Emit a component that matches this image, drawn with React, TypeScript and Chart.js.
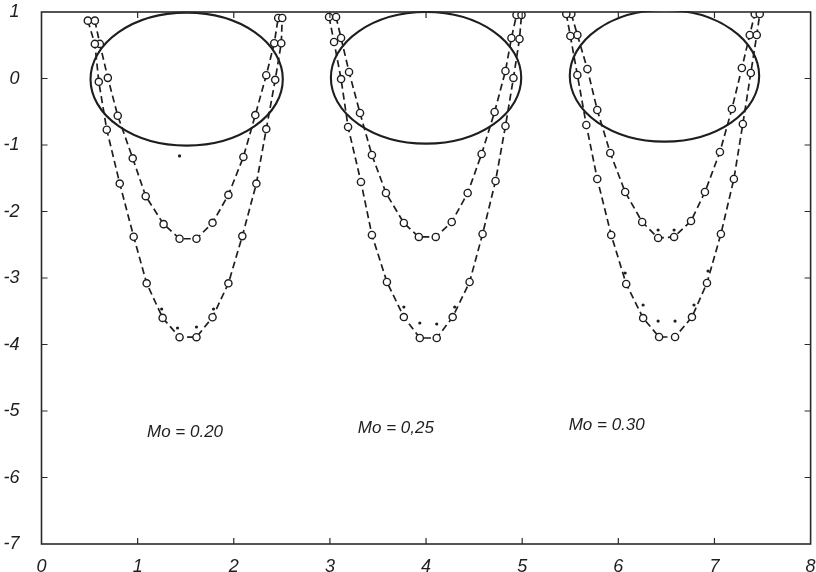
import React, { useEffect, useRef } from "react";
import { Chart, registerables } from "chart.js";

Chart.register(...registerables);

const INK = "#1e1e1e";

const X_TICKS = [0, 1, 2, 3, 4, 5, 6, 7, 8];
const X_TICK_LABELS = ["0", "1", "2", "3", "4", "5", "6", "7", "8"];
const Y_TICKS = [1, 0, -1, -2, -3, -4, -5, -6, -7];
const Y_TICK_LABELS = ["1", "0", "-1", "-2", "-3", "-4", "-5", "-6", "-7"];

// Mo = 0.20
const g1OuterX = [0.482, 0.555, 0.596, 0.679, 0.814, 0.959, 1.094, 1.26, 1.436, 1.612, 1.779, 1.944, 2.089, 2.235, 2.338, 2.431, 2.494, 2.504];
const g1OuterY = [0.87, 0.52, -0.05, -0.77, -1.58, -2.38, -3.08, -3.6, -3.89, -3.89, -3.59, -3.08, -2.37, -1.58, -0.76, -0.02, 0.53, 0.91];
const g1InnerX = [0.555, 0.607, 0.69, 0.793, 0.949, 1.084, 1.27, 1.436, 1.612, 1.779, 1.944, 2.1, 2.224, 2.338, 2.421, 2.462];
const g1InnerY = [0.87, 0.52, 0.01, -0.56, -1.2, -1.77, -2.19, -2.41, -2.41, -2.17, -1.75, -1.18, -0.55, 0.05, 0.53, 0.91];

// Mo = 0.25
const g2OuterX = [2.991, 3.043, 3.116, 3.189, 3.323, 3.437, 3.593, 3.769, 3.935, 4.111, 4.277, 4.453, 4.588, 4.723, 4.826, 4.909, 4.972, 4.993];
const g2OuterY = [0.925, 0.549, -0.008, -0.729, -1.556, -2.353, -3.06, -3.587, -3.902, -3.902, -3.587, -3.06, -2.338, -1.541, -0.714, 0.008, 0.594, 0.955];
const g2InnerX = [3.064, 3.116, 3.199, 3.313, 3.437, 3.583, 3.769, 3.925, 4.101, 4.267, 4.433, 4.578, 4.713, 4.826, 4.888, 4.941];
const g2InnerY = [0.925, 0.609, 0.098, -0.519, -1.15, -1.722, -2.173, -2.383, -2.383, -2.158, -1.722, -1.135, -0.504, 0.113, 0.609, 0.955];

// Mo = 0.30
const g3OuterX = [5.459, 5.501, 5.574, 5.667, 5.781, 5.926, 6.082, 6.258, 6.424, 6.59, 6.766, 6.922, 7.067, 7.202, 7.295, 7.378, 7.44, 7.471];
const g3OuterY = [0.97, 0.639, 0.053, -0.699, -1.511, -2.353, -3.09, -3.602, -3.887, -3.887, -3.587, -3.075, -2.338, -1.511, -0.684, 0.083, 0.654, 0.97];
const g3InnerX = [5.511, 5.574, 5.678, 5.781, 5.916, 6.071, 6.248, 6.414, 6.58, 6.756, 6.901, 7.057, 7.181, 7.285, 7.367, 7.419];
const g3InnerY = [0.97, 0.654, 0.143, -0.474, -1.12, -1.707, -2.158, -2.398, -2.383, -2.143, -1.707, -1.105, -0.459, 0.158, 0.654, 0.97];

// small filled dots
const dotsX = [1.436, 1.25, 1.415, 1.612, 1.789, 3.769, 3.935, 4.111, 4.298, 6.414, 6.58, 6.258, 6.414, 6.59, 6.787, 6.071, 6.933];
const dotsY = [-1.165, -3.466, -3.752, -3.737, -3.466, -3.436, -3.677, -3.692, -3.436, -2.278, -2.278, -3.406, -3.647, -3.647, -3.406, -2.925, -2.895];

// ellipses
const ellipseCX = [1.51, 4.0, 6.48];
const ellipseCY = [-0.01, 0.01, 0.04];
const ellipseRX = [1.0, 0.99, 0.985];
const ellipseRY = [1.0, 0.99, 0.99];

// annotations
const noteTexts = ["Mo = 0.20", "Mo = 0,25", "Mo = 0.30"];
const noteX = [1.493, 3.686, 5.879];
const noteY = [-5.316, -5.256, -5.211];

const FONT_FAMILY = "'Liberation Sans', 'DejaVu Sans', sans-serif";

const pts = (xs: number[], ys: number[]) => xs.map((x, i) => ({ x, y: ys[i] }));

const curve = (xs: number[], ys: number[]) => ({
  data: pts(xs, ys),
  showLine: true,
  borderColor: INK,
  borderWidth: 1.7,
  borderDash: [7, 4],
  pointRadius: 3.6,
  pointBorderWidth: 1.4,
  pointBorderColor: INK,
  pointBackgroundColor: "#ffffff",
  tension: 0,
  fill: false,
});

const decorPlugin = {
  id: "decor",
  beforeDatasetsDraw(chart: any) {
    const { ctx, chartArea: a, scales } = chart;
    const x = scales.x;
    const y = scales.y;
    ctx.save();
    ctx.beginPath();
    ctx.rect(a.left, a.top - 1, a.right - a.left, a.bottom - a.top + 1);
    ctx.clip();
    ctx.strokeStyle = INK;
    ctx.lineWidth = 2.1;
    for (let i = 0; i < ellipseCX.length; i++) {
      const cx = x.getPixelForValue(ellipseCX[i]);
      const cy = y.getPixelForValue(ellipseCY[i]);
      const rx = Math.abs(x.getPixelForValue(ellipseCX[i] + ellipseRX[i]) - cx);
      const ry = Math.abs(y.getPixelForValue(ellipseCY[i] + ellipseRY[i]) - cy);
      ctx.beginPath();
      ctx.ellipse(cx, cy, rx, ry, 0, 0, Math.PI * 2);
      ctx.stroke();
    }
    ctx.restore();
  },
  afterDraw(chart: any) {
    const { ctx, chartArea: a, scales } = chart;
    const x = scales.x;
    const y = scales.y;
    ctx.save();
    ctx.strokeStyle = "#2a2a2a";
    ctx.lineWidth = 1.6;
    ctx.strokeRect(a.left, a.top, a.right - a.left, a.bottom - a.top);
    const L = 6;
    ctx.lineWidth = 1.2;
    ctx.beginPath();
    for (const v of X_TICKS) {
      if (v === X_TICKS[0] || v === X_TICKS[X_TICKS.length - 1]) continue;
      const px = x.getPixelForValue(v);
      ctx.moveTo(px, a.bottom);
      ctx.lineTo(px, a.bottom - L);
      ctx.moveTo(px, a.top);
      ctx.lineTo(px, a.top + L);
    }
    for (const v of Y_TICKS) {
      if (v === Y_TICKS[0] || v === Y_TICKS[Y_TICKS.length - 1]) continue;
      const py = y.getPixelForValue(v);
      ctx.moveTo(a.left, py);
      ctx.lineTo(a.left + L, py);
      ctx.moveTo(a.right, py);
      ctx.lineTo(a.right - L, py);
    }
    ctx.stroke();

    ctx.fillStyle = INK;
    ctx.font = `italic 17px ${FONT_FAMILY}`;
    ctx.textAlign = "center";
    ctx.textBaseline = "middle";
    for (let i = 0; i < noteTexts.length; i++) {
      ctx.fillText(noteTexts[i], x.getPixelForValue(noteX[i]), y.getPixelForValue(noteY[i]));
    }
    ctx.restore();
  },
};

export default function App() {
  const canvasRef = useRef<HTMLCanvasElement | null>(null);

  useEffect(() => {
    const canvas = canvasRef.current;
    if (!canvas) return;
    const tickFont = { family: FONT_FAMILY, size: 18, style: "italic" as const, lineHeight: 1.0 };
    const chart = new Chart(canvas, {
      type: "scatter",
      data: {
        datasets: [
          curve(g1OuterX, g1OuterY),
          curve(g1InnerX, g1InnerY),
          curve(g2OuterX, g2OuterY),
          curve(g2InnerX, g2InnerY),
          curve(g3OuterX, g3OuterY),
          curve(g3InnerX, g3InnerY),
          {
            data: pts(dotsX, dotsY),
            showLine: false,
            pointRadius: 1.6,
            pointBorderWidth: 0,
            pointBackgroundColor: INK,
            pointBorderColor: INK,
          },
        ],
      },
      options: {
        animation: false,
        responsive: false,
        devicePixelRatio: 1,
        layout: { padding: { top: 12, right: 3, bottom: 0, left: 0 } },
        plugins: {
          legend: { display: false },
          tooltip: { enabled: false },
        },
        scales: {
          x: {
            type: "linear",
            min: 0,
            max: 8,
            grid: { display: false },
            border: { display: false },
            afterBuildTicks: (s: any) => {
              s.ticks = X_TICKS.map((v) => ({ value: v }));
            },
            ticks: {
              color: INK,
              font: tickFont,
              padding: 6,
              maxRotation: 0,
              autoSkip: false,
              callback: (v: any) => {
                const i = X_TICKS.indexOf(Number(v));
                return i >= 0 ? X_TICK_LABELS[i] : "";
              },
            },
            afterFit: (s: any) => {
              s.height = 28;
              s.paddingLeft = 0;
              s.paddingRight = 0;
            },
          },
          y: {
            type: "linear",
            min: -7,
            max: 1,
            grid: { display: false },
            border: { display: false },
            afterBuildTicks: (s: any) => {
              s.ticks = Y_TICKS.map((v) => ({ value: v }));
            },
            ticks: {
              color: INK,
              font: tickFont,
              padding: 14,
              autoSkip: false,
              callback: (v: any) => {
                const i = Y_TICKS.indexOf(Number(v));
                return i >= 0 ? Y_TICK_LABELS[i] : "";
              },
            },
            afterFit: (s: any) => {
              s.width = 41.5;
              s.paddingTop = 0;
              s.paddingBottom = 0;
            },
          },
        },
      },
      plugins: [decorPlugin],
    } as any);
    return () => chart.destroy();
  }, []);

  return (
    <div style={{ position: "absolute", left: 0, top: 0, width: 816, height: 572, background: "#fff" }}>
      <canvas ref={canvasRef} width={816} height={572} style={{ display: "block" }} />
    </div>
  );
}
